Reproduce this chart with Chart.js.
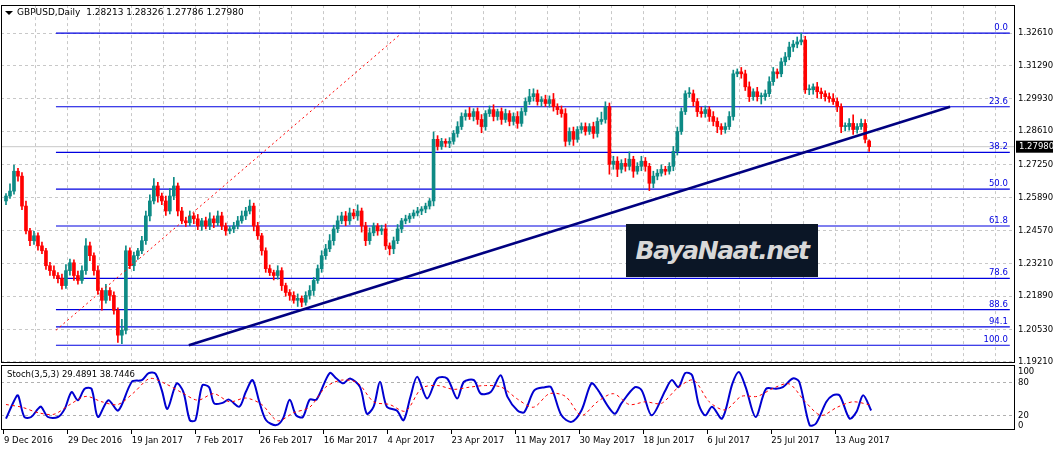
<!DOCTYPE html>
<html><head><meta charset="utf-8">
<script src="https://cdn.jsdelivr.net/npm/chart.js@4/dist/chart.umd.min.js"></script>
<style>
body{margin:0;background:#fff;width:1053px;height:452px;overflow:hidden;position:relative;font-family:"DejaVu Sans",sans-serif}
#m{position:absolute;left:0;top:-3px;width:1053px;height:374px}
#s{position:absolute;left:0;top:357px;width:1053px;height:95px}
#wm{position:absolute;left:626px;top:224px;width:192px;height:53px;background:#0b1626;color:#d8d8d8;font:italic bold 25px "DejaVu Sans",sans-serif;line-height:53px;text-align:center;letter-spacing:-1.5px}
</style></head><body>
<div id="m"><canvas id="cm"></canvas></div>
<div id="s"><canvas id="cs"></canvas></div>
<div id="wm">BayaNaat.net</div>
<script>
const dateLabels=["9 Dec 2016","29 Dec 2016","19 Jan 2017","7 Feb 2017","26 Feb 2017","16 Mar 2017","4 Apr 2017","23 Apr 2017","11 May 2017","30 May 2017","18 Jun 2017","6 Jul 2017","25 Jul 2017","13 Aug 2017"];
const priceTicks=[1.32610,1.31290,1.29930,1.28610,1.27250,1.25890,1.24570,1.23210,1.21890,1.20530,1.19210];
const firstOpen=1.2577;
const closes=[1.2597,1.2617,1.2698,1.2678,1.2556,1.2455,1.2415,1.2435,1.2394,1.2374,1.2313,1.2293,1.2273,1.2261,1.2232,1.2293,1.2325,1.2273,1.2253,1.2293,1.2394,1.2354,1.2293,1.2212,1.2172,1.2212,1.2192,1.2131,1.2030,1.2050,1.2374,1.2313,1.2354,1.2374,1.2415,1.2516,1.2577,1.2638,1.2597,1.2577,1.2536,1.2597,1.2638,1.2536,1.2496,1.2488,1.2516,1.2504,1.2475,1.2496,1.2475,1.2504,1.2488,1.2516,1.2475,1.2455,1.2463,1.2475,1.2496,1.2516,1.2536,1.2556,1.2475,1.2435,1.2374,1.2301,1.2285,1.2273,1.2293,1.2232,1.2204,1.2192,1.2172,1.2180,1.2164,1.2192,1.2212,1.2253,1.2301,1.2354,1.2382,1.2415,1.2463,1.2496,1.2516,1.2496,1.2528,1.2516,1.2536,1.2475,1.2415,1.2447,1.2475,1.2455,1.2463,1.2394,1.2382,1.2415,1.2463,1.2496,1.2504,1.2516,1.2528,1.2536,1.2544,1.2556,1.2577,1.2828,1.2799,1.2820,1.2812,1.2820,1.2852,1.2880,1.2921,1.2933,1.2921,1.2941,1.2909,1.2880,1.2933,1.2949,1.2921,1.2941,1.2909,1.2933,1.2901,1.2921,1.2893,1.2941,1.2982,1.3002,1.3014,1.2982,1.2990,1.2974,1.2990,1.2961,1.2949,1.2933,1.2820,1.2860,1.2828,1.2868,1.2880,1.2860,1.2880,1.2852,1.2901,1.2909,1.2961,1.2726,1.2739,1.2706,1.2730,1.2718,1.2747,1.2698,1.2718,1.2739,1.2718,1.2649,1.2678,1.2690,1.2706,1.2698,1.2718,1.2779,1.2860,1.2941,1.3014,1.3014,1.2982,1.2941,1.2933,1.2949,1.2921,1.2901,1.2880,1.2868,1.2880,1.2921,1.3095,1.3103,1.3095,1.3042,1.3002,1.3022,1.3002,1.3002,1.3014,1.3063,1.3103,1.3095,1.3144,1.3164,1.3204,1.3216,1.3225,1.3233,1.3030,1.3030,1.3042,1.3022,1.3014,1.3002,1.2994,1.2982,1.2961,1.2880,1.2880,1.2893,1.2868,1.2880,1.2893,1.2828,1.2798];
const upWickPips=[10,30,25,12,15,20,10,18,12,15,10,14,20,12,18,25,15,12,18,20,30,15,12,20,10,25,12,15,10,45,20,12,15,10,18,20,25,30,15,12,20,30,35,12,15,15,20,12,18,10,15,25,12,20,15,12,10,15,18,20,15,25,12,15,10,12,15,10,20,12,10,12,15,18,10,15,20,12,15,20,18,25,15,20,15,18,20,15,25,12,15,20,12,10,15,20,12,15,18,10,15,10,12,15,10,12,10,30,15,12,10,15,12,20,15,15,25,12,15,20,12,15,20,10,15,18,12,15,20,15,15,30,20,15,12,18,15,25,12,15,20,15,18,12,15,15,12,18,15,30,20,15,20,18,15,20,30,12,15,20,15,12,20,15,18,12,15,20,18,15,12,25,15,12,18,15,12,20,15,12,15,20,15,12,18,15,20,12,18,15,15,20,18,12,15,18,20,15,20,28,15,20,12,18,15,12,15,20,15,12,15,20,35,12,18,15,5];
const downWickPips=[15,10,12,20,15,12,20,15,18,12,15,20,12,18,15,12,18,20,15,12,15,20,18,15,40,12,20,15,30,35,15,12,20,15,12,15,20,12,25,15,18,12,15,20,12,15,12,20,15,18,12,15,20,12,15,18,12,15,12,10,15,12,20,15,18,15,12,18,15,20,15,20,12,25,18,12,15,20,12,15,15,12,18,15,12,20,15,12,18,25,20,15,12,18,15,15,25,20,12,15,12,15,10,12,15,15,12,20,15,12,15,18,12,15,12,15,12,18,20,25,15,12,18,15,20,12,18,15,20,12,15,12,18,15,20,12,15,18,20,15,20,15,25,12,15,15,12,20,15,12,15,40,20,30,15,20,15,25,12,18,20,30,18,15,12,15,12,18,15,12,12,15,18,20,15,15,20,18,25,20,15,12,15,12,18,15,20,15,18,30,15,12,15,18,12,15,12,18,15,12,15,20,18,25,20,18,15,12,20,25,18,15,20,15,12,15,19];
const fibHigh=1.3261, fibLow=1.1989;
const fibRatios=[0,23.6,38.2,50.0,61.8,78.6,88.6,94.1,100.0];
const fibStartIdx=12.5, fibEndIdx=251.2;
const trendIdx=[45.75,236.25], trendPrice=[1.1989,1.2961];
const rayIdx=[12.5,98.75], rayPrice=[1.2050,1.3257];
const kIdx=[0,2.1,3,4.6,6.3,8,8.8,10.5,13,14.7,16.4,18,19.7,21.4,23,25.6,28.1,31.5,34,35.7,37.4,39,40.4,42.7,44.4,46,47.4,49.1,50.8,52.1,54.2,55.8,58.4,60,61.7,63.4,65.1,67.6,69.3,71,72.6,74.3,76,77.7,81,82.7,84.4,86.1,88.6,90.3,92,93.6,95.3,97.8,99.5,101.2,102.9,105.4,107.9,110.4,112.9,114.6,117.1,118.8,121.3,123.8,125.5,128,129.7,132.2,134.8,136.4,139,141.5,144,146.5,148.2,150.7,152.4,154,157.4,159.1,161.6,165,166.6,168.3,170,171.7,173.4,175,176.7,179.2,181.8,183.4,185.1,187.6,190.2,192.7,194.4,196.9,198.5,201.1,202.7,205.3,206.9,208.6,211.1,212.8,214.5,216.5];
const kVal=[14,48,57,17,17,32,36,17,17,32,63,48,69,69,17,48,29,82,85,98,97,66,32,79,63,11,11,75,72,42,43,49,36,63,85,45,11,2,14,49,20,17,49,49,98,88,79,88,72,23,36,82,36,29,11,54,91,51,88,88,51,82,85,60,63,94,54,29,26,66,72,72,20,8,29,79,66,36,23,42,72,66,20,66,85,72,98,94,39,20,36,14,79,100,72,17,69,69,72,88,82,2,5,45,57,57,14,26,57,29];
const dIdx=[0,4,8,12,16,20,24,28,32,36,40,44,48,52,56,60,64,68,72,76,80,84,88,92,96,100,104,108,112,116,120,124,128,132,136,140,144,148,152,156,160,164,168,172,176,180,184,188,192,196,200,204,208,212,216.5];
const dVal=[40,35,25,22,40,55,45,40,62,88,78,62,48,60,45,52,40,10,25,35,72,85,80,45,40,28,70,75,68,72,75,72,50,35,60,55,20,45,60,40,45,42,70,85,45,30,55,55,70,78,45,20,35,45,38.7];
const lastPrice=1.27980;

const UP='#0d8a85', DN='#ff0000', FIB='#0000e0';
const n=closes.length;
const opens=closes.map((c,i)=>i===0?firstOpen:closes[i-1]);
opens[n-1]=1.28213;
const highs=closes.map((c,i)=>Math.max(c,opens[i])+upWickPips[i]/10000);
const lows=closes.map((c,i)=>Math.min(c,opens[i])-downWickPips[i]/10000);
const cols=closes.map((c,i)=>c>=opens[i]?UP:DN);
const XMIN=-1.25, XMAX=252.5;
const FONT={family:'"DejaVu Sans", sans-serif',size:8.5};
Chart.defaults.animation=false;

const frame={id:'frame',afterDraw(c){const a=c.chartArea,x=c.ctx;x.save();x.strokeStyle='#000';x.lineWidth=1;x.strokeRect(Math.round(a.left)+0.5,Math.round(a.top)+0.5,Math.round(a.right-a.left)-1,Math.round(a.bottom-a.top)-1);x.restore();}};
const mainText={id:'mt',afterDraw(c){const x=c.ctx,ys=c.scales.y,xs=c.scales.x,t=c.chartArea.top;x.save();
 x.fillStyle=FIB;x.font='8.5px "DejaVu Sans"';x.textAlign='right';x.textBaseline='bottom';
 fibRatios.forEach(r=>{const p=fibHigh-(fibHigh-fibLow)*r/100;x.fillText(r.toFixed(1),xs.getPixelForValue(fibEndIdx)-2,ys.getPixelForValue(p)-1);});
 const py=ys.getPixelForValue(lastPrice);x.fillStyle='#000';x.fillRect(c.chartArea.right+1,py-6,38,12);x.fillStyle='#fff';x.textAlign='left';x.textBaseline='middle';x.fillText('1.27980',c.chartArea.right+4,py);
 x.fillStyle='#000';x.beginPath();x.moveTo(5,t+6);x.lineTo(13,t+6);x.lineTo(9,t+10);x.fill();
 x.font='9px "DejaVu Sans"';x.fillText('GBPUSD,Daily  1.28213 1.28326 1.27786 1.27980',17,t+8);
 x.restore();}};

const fibSets=fibRatios.map(r=>{const p=fibHigh-(fibHigh-fibLow)*r/100;return {type:'line',data:[{x:fibStartIdx,y:p},{x:fibEndIdx,y:p}],borderColor:FIB,borderWidth:1.2,pointRadius:0,order:3};});
new Chart(document.getElementById('cm'),{
 data:{datasets:[
  {type:'line',data:[{x:XMIN,y:lastPrice},{x:XMAX,y:lastPrice}],borderColor:'#c8c8c8',borderWidth:1,pointRadius:0,order:5},
  ...fibSets,
  {type:'bar',data:closes.map((c,i)=>({x:i,y:[lows[i],highs[i]]})),backgroundColor:cols,barThickness:1,grouped:false,order:2},
  {type:'bar',data:closes.map((c,i)=>({x:i,y:[opens[i],c]})),backgroundColor:cols,barThickness:3,minBarLength:1,grouped:false,order:1},
  {type:'line',data:[{x:rayIdx[0],y:rayPrice[0]},{x:rayIdx[1],y:rayPrice[1]}],borderColor:'#ff0000',borderWidth:1,borderDash:[2,3],pointRadius:0,order:0},
  {type:'line',data:[{x:trendIdx[0],y:trendPrice[0]},{x:trendIdx[1],y:trendPrice[1]}],borderColor:'#000080',borderWidth:2.5,pointRadius:0,order:0}
 ]},
 options:{responsive:true,maintainAspectRatio:false,layout:{padding:{top:5,left:1,right:0,bottom:0}},
  plugins:{legend:{display:false},tooltip:{enabled:false}},
  scales:{
   x:{type:'linear',offset:false,min:XMIN,max:XMAX,display:true,
     afterBuildTicks(s){s.ticks=[];for(let k=1;k*8-0.5<XMAX;k++)s.ticks.push({value:k*8-0.5});},
     ticks:{display:false},grid:{color:'#c8c8c8',drawTicks:false,offset:false},border:{display:false,dash:[3,3]},afterFit(s){s.height=0;}},
   y:{position:'right',min:1.1917,max:1.3375,
     afterBuildTicks(s){s.ticks=priceTicks.map(v=>({value:v}));},
     afterFit(s){s.width=38;},
     ticks:{font:FONT,color:'#000',padding:3,callback:v=>v.toFixed(5)},
     grid:{color:'#c8c8c8',drawTicks:false},border:{display:false,dash:[3,3]}}
  }},
 plugins:[frame,mainText]
});

const subText={id:'st',afterDraw(c){const x=c.ctx;x.save();x.fillStyle='#000';x.font='8.5px "DejaVu Sans"';x.textBaseline='middle';x.fillText('Stoch(3,5,3) 29.4891 38.7446',7,c.chartArea.top+10);x.restore();}};
new Chart(document.getElementById('cs'),{
 data:{datasets:[
  {type:'line',data:dIdx.map((v,i)=>({x:v,y:dVal[i]})),borderColor:'#ff0000',borderWidth:1,borderDash:[3,3],pointRadius:0,tension:0.3},
  {type:'line',data:kIdx.map((v,i)=>({x:v,y:kVal[i]})),borderColor:'#0000d0',borderWidth:2,pointRadius:0,tension:0.3}
 ]},
 options:{responsive:true,maintainAspectRatio:false,layout:{padding:{top:1,left:1,right:0,bottom:0}},
  plugins:{legend:{display:false},tooltip:{enabled:false}},
  scales:{
   x:{type:'linear',offset:false,min:XMIN,max:XMAX,
     afterBuildTicks(s){s.ticks=dateLabels.map((d,k)=>({value:k*16-0.5}));},
     afterFit(s){s.height=22;},
     ticks:{font:FONT,color:'#000',align:'start',maxRotation:0,autoSkip:false,padding:2,callback:(v,i)=>dateLabels[i]},
     grid:{drawOnChartArea:false,color:'#000',tickLength:4},border:{display:false}},
   y:{position:'right',min:-7,max:112.7,
     afterBuildTicks(s){s.ticks=[0,20,80,100].map(v=>({value:v}));},
     afterFit(s){s.width=38;},
     ticks:{font:FONT,color:'#000',padding:3},
     grid:{color:c=>(c.tick&&(c.tick.value===20||c.tick.value===80))?'#b0b0b0':'rgba(0,0,0,0)',drawTicks:false},border:{display:false,dash:[3,3]}}
  }},
 plugins:[frame,subText]
});
</script></body></html>
